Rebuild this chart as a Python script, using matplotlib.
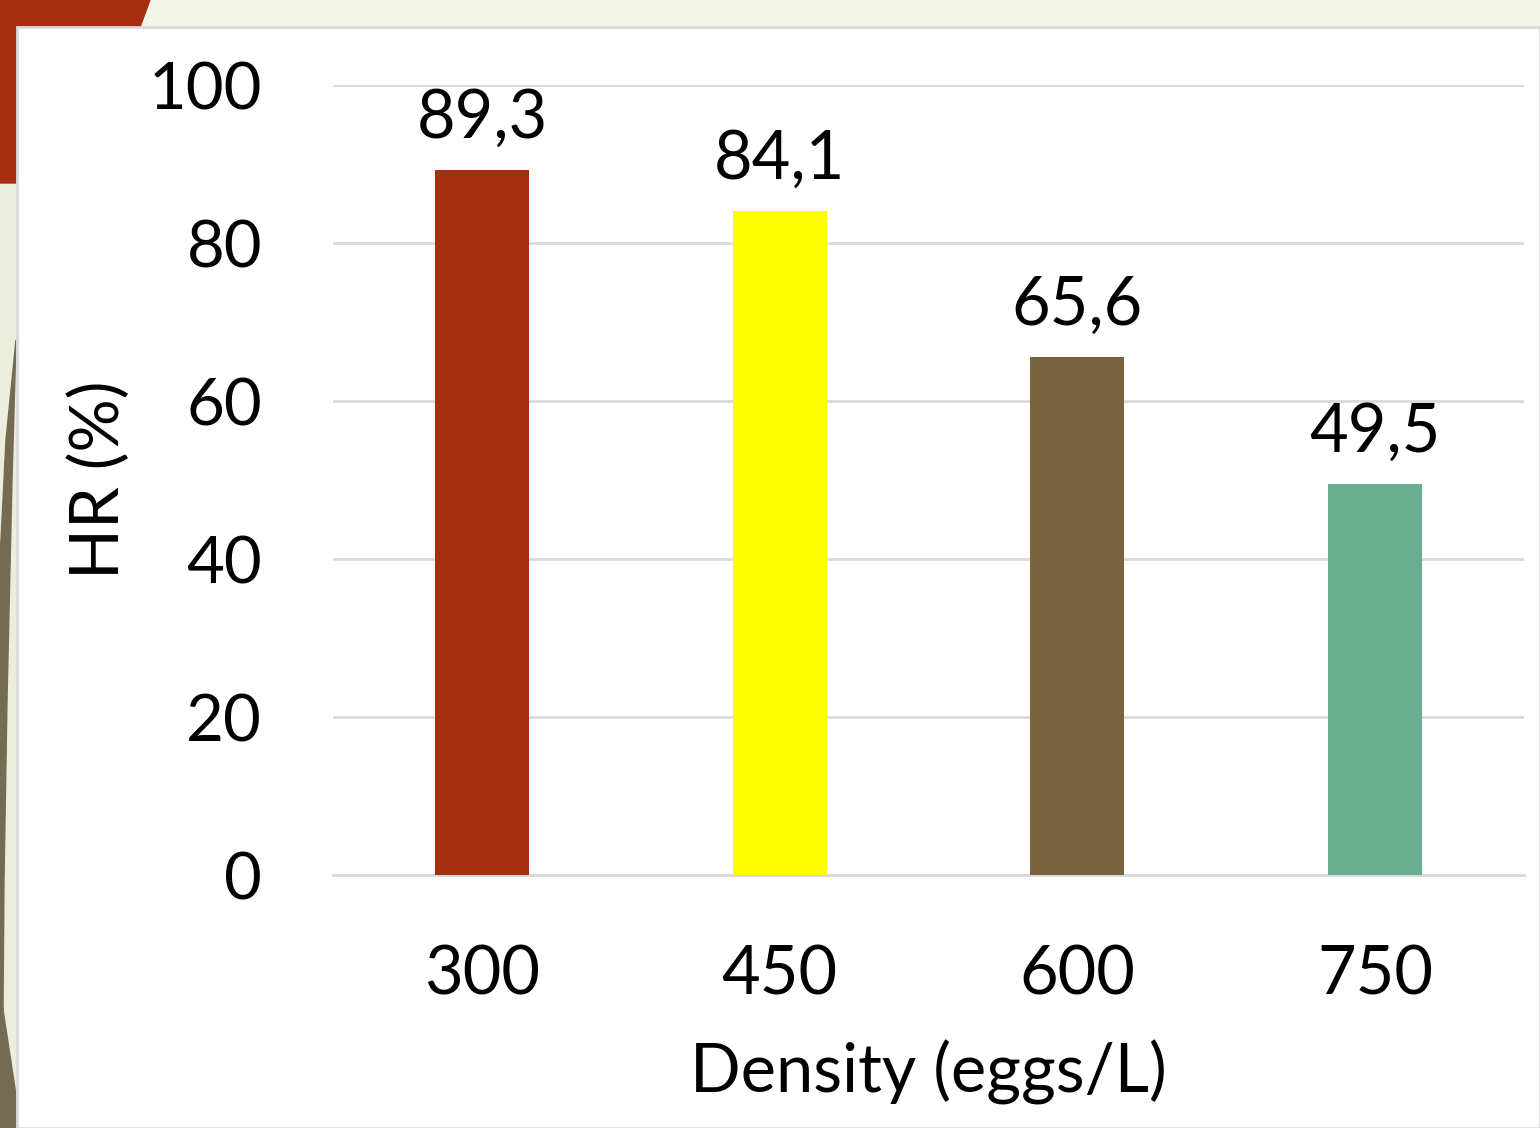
import matplotlib
matplotlib.use("Agg")
import matplotlib.pyplot as plt
from matplotlib.patches import Polygon, Rectangle

plt.rcParams['font.family'] = ['Lato', 'DejaVu Sans']

categories = ["300", "450", "600", "750"]
hr_values = [89.3, 84.1, 65.6, 49.5]
value_labels = ["89,3", "84,1", "65,6", "49,5"]
bar_colors = ["#A52F10", "#FFFF00", "#7A633F", "#6AAD90"]
y_ticks = [0, 20, 40, 60, 80, 100]

W, H = 1540, 1128
fig = plt.figure(figsize=(W / 100, H / 100), dpi=100)

# slide background in pixel coordinates
bg = fig.add_axes([0, 0, 1, 1])
bg.set_xlim(0, W)
bg.set_ylim(H, 0)
bg.axis("off")
bg.add_patch(Rectangle((0, 0), W, H, color="#EBEEDC", zorder=0))
bg.add_patch(Rectangle((140, 0), W - 140, 27, color="#F3F5EA", zorder=1))
bg.add_patch(Polygon([(0, 0), (150, 0), (140, 27), (17, 27), (17, 183), (0, 183)],
                     closed=True, color="#A52F10", zorder=2))
bg.add_patch(Polygon([(16, 340), (12, 480), (7, 700), (4, 880), (3, 1010), (0, 1010),
                      (0, 560), (6, 440)], closed=True, color="#756B52", zorder=2))
bg.add_patch(Polygon([(0, 990), (16, 1095), (16, 1128), (0, 1128)],
                     closed=True, color="#756B52", zorder=2))
bg.add_patch(Rectangle((17, 27), W - 17, H - 27, facecolor="white",
                       edgecolor="#DADADA", linewidth=2, zorder=3))

ax = fig.add_axes([333 / W, 1 - 875 / H, (1524 - 333) / W, (875 - 85) / H])
ax.set_facecolor("none")
x = list(range(len(categories)))
ax.bar(x, hr_values, width=0.315, color=bar_colors, zorder=3)
for xi, v, lab in zip(x, hr_values, value_labels):
    ax.text(xi, v + 2.5, lab, ha="center", va="bottom", fontsize=48, color="black")

ax.set_xlim(-0.5, 3.5)
ax.set_ylim(0, 100)
ax.set_yticks(y_ticks)
ax.set_yticklabels([str(t) for t in y_ticks])
ax.set_xticks(x)
ax.set_xticklabels(categories)
ax.tick_params(axis="y", length=0, labelsize=47, pad=51)
ax.tick_params(axis="x", length=0, labelsize=48, pad=50)
ax.grid(axis="y", color="#D9D9D9", linewidth=2, zorder=0)
for side in ["top", "right", "left"]:
    ax.spines[side].set_visible(False)
ax.spines["bottom"].set_color("#D9D9D9")
ax.spines["bottom"].set_linewidth(2)

ax.set_ylabel("HR (%)", fontsize=48)
ax.yaxis.set_label_coords((100 - 333) / (1524 - 333), (875 - 480) / (875 - 85))
ax.set_xlabel("Density (eggs/L)", fontsize=48)
ax.xaxis.set_label_coords((928 - 333) / (1524 - 333), -(1072 - 875) / (875 - 85))
ax.yaxis.label.set_va("center")
ax.xaxis.label.set_va("center")

fig.savefig("out.png", dpi=100)
